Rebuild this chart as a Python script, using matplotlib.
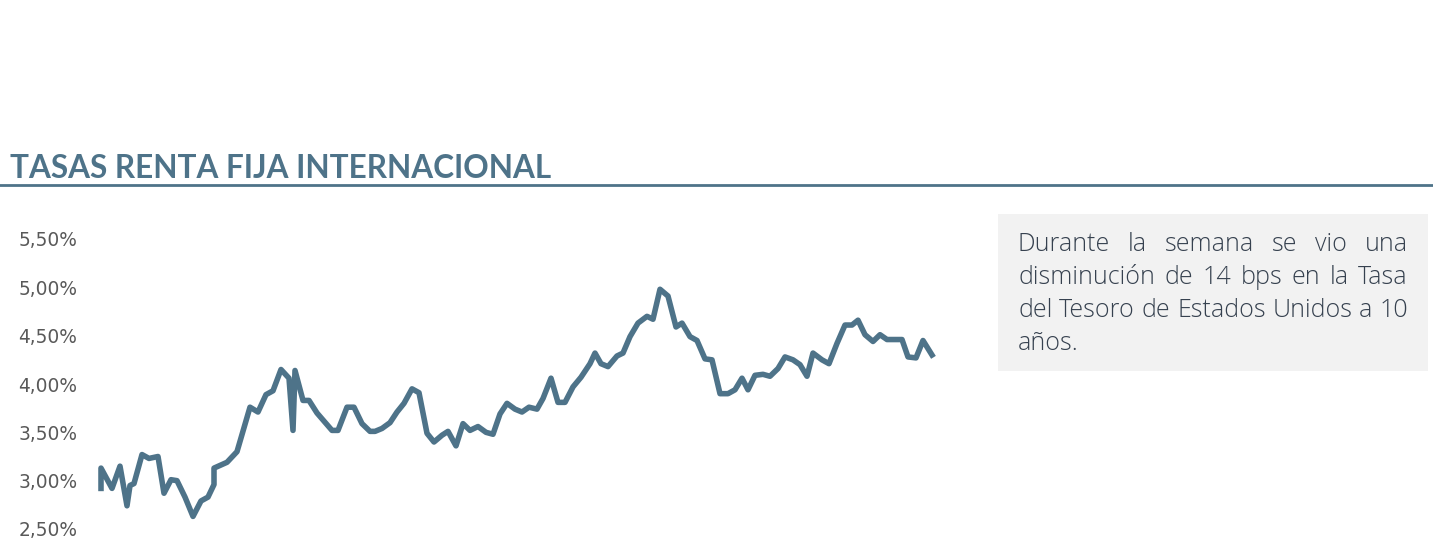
import matplotlib
matplotlib.use("Agg")
import matplotlib.pyplot as plt
from matplotlib.ticker import FuncFormatter

W, H = 1433, 548
COLOR = "#4E7389"

# posicion (semana aprox.) y tasa del Tesoro 10 anos (%)
t = [0, 0, 11, 19, 26, 29, 33, 41, 48, 57, 63, 70, 76, 84, 92, 100, 107, 113, 113, 126,
     136, 149, 157, 165, 172, 180, 188, 192, 194, 202, 208, 216, 231, 237, 246, 253, 261, 269, 274, 281,
     289, 296, 303, 311, 318, 326, 333, 341, 347, 355, 362, 369, 377, 385, 392, 399, 406, 414, 421, 428,
     436, 442, 450, 457, 464, 472, 480, 489, 494, 500, 507, 516, 522, 529, 537, 546, 552, 559, 567, 575,
     581, 589, 596, 604, 611, 619, 627, 634, 641, 647, 654, 662, 669, 677, 684, 692, 699, 706, 712, 721,
     728, 736, 744, 751, 757, 764, 772, 779, 786, 794, 801, 807, 815, 822, 831]
tasa = [2.92, 3.13, 2.92, 3.15, 2.74, 2.95, 2.97, 3.27, 3.23, 3.25, 2.87, 3.01, 3.00, 2.83, 2.63, 2.79, 2.83, 2.96, 3.13, 3.19,
        3.30, 3.76, 3.71, 3.89, 3.93, 4.15, 4.06, 3.52, 4.14, 3.83, 3.83, 3.70, 3.52, 3.52, 3.76, 3.76, 3.59, 3.51, 3.51, 3.54,
        3.60, 3.71, 3.80, 3.95, 3.91, 3.49, 3.40, 3.47, 3.51, 3.36, 3.59, 3.52, 3.56, 3.50, 3.48, 3.69, 3.80, 3.74, 3.71, 3.76,
        3.74, 3.85, 4.06, 3.81, 3.81, 3.97, 4.07, 4.21, 4.32, 4.21, 4.18, 4.29, 4.32, 4.49, 4.63, 4.70, 4.67, 4.98, 4.91, 4.59,
        4.63, 4.49, 4.45, 4.26, 4.25, 3.90, 3.90, 3.94, 4.06, 3.94, 4.09, 4.10, 4.08, 4.16, 4.28, 4.25, 4.20, 4.08, 4.32, 4.25,
        4.21, 4.42, 4.61, 4.61, 4.66, 4.51, 4.44, 4.51, 4.46, 4.46, 4.46, 4.28, 4.27, 4.45, 4.30]
yticks = [2.5, 3.0, 3.5, 4.0, 4.5, 5.0, 5.5]

titulo = "TASAS RENTA FIJA INTERNACIONAL"
comentario = [
    "Durante la semana se vio una",
    "disminución de 14 bps en la Tasa",
    "del Tesoro de Estados Unidos a 10",
    "años.",
]

fig = plt.figure(figsize=(W / 100, H / 100), dpi=100)

def fx(px):
    return px / W

def fy(py):
    return 1 - py / H

# title + rule
fig.text(fx(10), fy(178), titulo, fontsize=22.7, fontweight="bold", family="Lato",
         color=COLOR, ha="left", va="baseline")
fig.add_artist(plt.Line2D([0, 1], [fy(185.5), fy(185.5)], color=COLOR, lw=2))

# chart
ax = fig.add_axes([fx(101), fy(529), fx(831), (529 - 239) / H])
ax.plot(t, tasa, color=COLOR, lw=4, solid_joinstyle="round", clip_on=False)
ax.set_xlim(0, 831)
ax.set_ylim(2.5, 5.5)
ax.set_yticks(yticks)
ax.yaxis.set_major_formatter(FuncFormatter(lambda v, p: f"{v:.2f}".replace(".", ",") + "%"))
ax.set_xticks([])
for s in ax.spines.values():
    s.set_visible(False)
ax.tick_params(axis="y", length=0, pad=17, labelsize=13.4, labelcolor="#595959")
for lab in ax.get_yticklabels():
    lab.set_family("DejaVu Sans")

# comment box
fig.add_artist(plt.Rectangle((fx(998), fy(371)), fx(430), (371 - 214) / H,
                             facecolor="#F2F2F2", edgecolor="none"))
renderer = fig.canvas.get_renderer()
left, right = 1018, 1408
for i, linea in enumerate(comentario):
    yb = 251 + i * 33
    words = linea.split(" ")
    objs = [fig.text(0, fy(yb), w, fontsize=18, family="Open Sans", fontweight="light",
                     color="#36414F", ha="left", va="baseline") for w in words]
    widths = [o.get_window_extent(renderer).width for o in objs]
    if i == len(comentario) - 1 or len(words) == 1:
        gap = renderer.points_to_pixels(18) * 0.26
    else:
        gap = (right - left - sum(widths)) / (len(words) - 1)
    x = left
    for o, wd in zip(objs, widths):
        o.set_x(fx(x))
        x += wd + gap

fig.savefig("out.png", dpi=100)
